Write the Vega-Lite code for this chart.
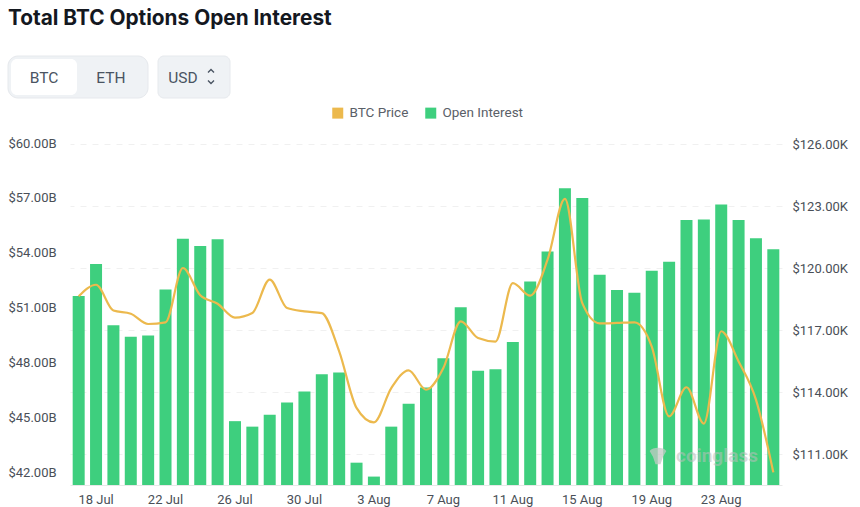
{
  "$schema": "https://vega.github.io/schema/vega-lite/v6.json",
  "width": 712,
  "height": 341,
  "autosize": "none",
  "padding": {"left": 70, "top": 144, "right": 78, "bottom": 22},
  "background": "white",
  "title": {"text": "Total BTC Options Open Interest", "font": "Inter", "fontSize": 20.8, "fontWeight": 700, "color": "#14181f", "anchor": "start", "frame": "group", "dx": -62, "offset": 26},
  "config": {"view": {"stroke": null}, "text": {"font": "Roboto"}},
  "datasets": {
    "days": [
      {"day": "17 Jul", "oi": 51.69, "price": 118.63},
      {"day": "18 Jul", "oi": 53.44, "price": 119.19},
      {"day": "19 Jul", "oi": 50.09, "price": 117.94},
      {"day": "20 Jul", "oi": 49.47, "price": 117.79},
      {"day": "21 Jul", "oi": 49.53, "price": 117.29},
      {"day": "22 Jul", "oi": 52.05, "price": 117.37},
      {"day": "23 Jul", "oi": 54.82, "price": 120.0},
      {"day": "24 Jul", "oi": 54.42, "price": 118.68},
      {"day": "25 Jul", "oi": 54.8, "price": 118.27},
      {"day": "26 Jul", "oi": 44.85, "price": 117.6},
      {"day": "27 Jul", "oi": 44.55, "price": 117.82},
      {"day": "28 Jul", "oi": 45.2, "price": 119.44},
      {"day": "29 Jul", "oi": 45.87, "price": 118.06},
      {"day": "30 Jul", "oi": 46.47, "price": 117.9},
      {"day": "31 Jul", "oi": 47.42, "price": 117.82},
      {"day": "1 Aug", "oi": 47.51, "price": 115.97},
      {"day": "2 Aug", "oi": 42.58, "price": 113.23},
      {"day": "3 Aug", "oi": 41.82, "price": 112.53},
      {"day": "4 Aug", "oi": 44.55, "price": 114.19},
      {"day": "5 Aug", "oi": 45.8, "price": 115.05},
      {"day": "6 Aug", "oi": 46.69, "price": 114.11},
      {"day": "7 Aug", "oi": 48.29, "price": 115.16},
      {"day": "8 Aug", "oi": 51.07, "price": 117.42},
      {"day": "9 Aug", "oi": 47.6, "price": 116.61},
      {"day": "10 Aug", "oi": 47.69, "price": 116.44},
      {"day": "11 Aug", "oi": 49.18, "price": 119.27},
      {"day": "12 Aug", "oi": 52.49, "price": 118.66},
      {"day": "13 Aug", "oi": 54.13, "price": 120.4},
      {"day": "14 Aug", "oi": 57.58, "price": 123.34},
      {"day": "15 Aug", "oi": 57.05, "price": 118.3},
      {"day": "16 Aug", "oi": 52.85, "price": 117.32},
      {"day": "17 Aug", "oi": 52.02, "price": 117.34},
      {"day": "18 Aug", "oi": 51.87, "price": 117.37},
      {"day": "19 Aug", "oi": 53.07, "price": 116.2},
      {"day": "20 Aug", "oi": 53.56, "price": 112.82},
      {"day": "21 Aug", "oi": 55.84, "price": 114.23},
      {"day": "22 Aug", "oi": 55.87, "price": 112.47},
      {"day": "23 Aug", "oi": 56.69, "price": 116.94},
      {"day": "24 Aug", "oi": 55.84, "price": 115.48},
      {"day": "25 Aug", "oi": 54.85, "price": 113.63},
      {"day": "26 Aug", "oi": 54.25, "price": 110.11}
    ]
  },
  "layer": [
    {
      "data": {"name": "days"},
      "encoding": {
        "x": {
          "field": "day", "type": "nominal", "sort": null, "title": null,
          "scale": {"type": "band", "paddingInner": 0.31, "paddingOuter": 0.155},
          "axis": {
            "values": ["18 Jul", "22 Jul", "26 Jul", "30 Jul", "3 Aug", "7 Aug", "11 Aug", "15 Aug", "19 Aug", "23 Aug"],
            "labelAngle": 0, "ticks": false, "domainColor": "#e8e8e8", "labelFont": "Roboto", "labelFontSize": 13, "labelColor": "#4a4f57", "labelPadding": 8.5
          }
        }
      },
      "layer": [
        {
          "mark": {"type": "bar", "size": 12},
          "encoding": {
            "y": {
              "field": "oi", "type": "quantitative", "title": null,
              "scale": {"domain": [41.36, 60], "zero": false, "nice": false, "clamp": true},
              "axis": {
                "values": [42, 45, 48, 51, 54, 57, 60], "labelExpr": "'$' + format(datum.value, '.2f') + 'B'",
                "domain": false, "ticks": false, "grid": false, "labelAlign": "left", "labelPadding": 62, "labelOffset": -1, "labelFont": "Roboto", "labelFontSize": 13, "labelColor": "#4a4f57"
              }
            },
            "color": {
              "datum": "Open Interest",
              "scale": {"domain": ["BTC Price", "Open Interest"], "range": ["#ecb94d", "#3ecf7e"]},
              "legend": {
                "orient": "none", "legendX": 261, "legendY": -38, "direction": "horizontal", "title": null, "symbolType": "square", "symbolSize": 121,
                "symbolStrokeWidth": 0, "labelFont": "Roboto", "labelFontSize": 13.5, "labelColor": "#5a6068", "labelOffset": 5, "columnPadding": 15,
                "encode": {"symbols": {"update": {"fill": {"field": "value", "scale": "color"}}}}
              }
            }
          }
        },
        {
          "mark": {"type": "line", "interpolate": "monotone", "strokeWidth": 2.2},
          "encoding": {
            "y": {
              "field": "price", "type": "quantitative", "title": null,
              "scale": {"domain": [109.5, 126], "zero": false, "nice": false},
              "axis": {
                "orient": "right", "values": [111, 114, 117, 120, 123, 126], "labelExpr": "'$' + format(datum.value, '.2f') + 'K'",
                "domain": false, "ticks": false, "grid": true, "gridColor": "#f0f0f0", "gridDash": [6, 6], "labelAlign": "left", "labelPadding": 10, "labelFont": "Roboto", "labelFontSize": 13, "labelColor": "#4a4f57"
              }
            },
            "color": {"datum": "BTC Price"}
          }
        }
      ],
      "resolve": {"scale": {"y": "independent"}}
    },
    {
      "encoding": {
        "x": {"type": "quantitative", "title": null, "scale": {"domain": [0, 860], "range": [-70, 790], "nice": false, "zero": false}, "axis": null},
        "y": {"type": "quantitative", "title": null, "scale": {"domain": [0, 507], "range": [-144, 363], "nice": false, "zero": false}, "axis": null}
      },
      "layer": [
        {
          "data": {"values": [{"control": "pair"}]},
          "mark": {"type": "rect", "fill": "#eff2f5", "stroke": "#e6e9ed", "cornerRadius": 10},
          "encoding": {"x": {"datum": 8}, "x2": {"datum": 148}, "y": {"datum": 56}, "y2": {"datum": 98}}
        },
        {
          "data": {"values": [{"control": "selected"}]},
          "mark": {"type": "rect", "fill": "white", "cornerRadius": 6},
          "encoding": {"x": {"datum": 11}, "x2": {"datum": 77}, "y": {"datum": 59}, "y2": {"datum": 95}}
        },
        {
          "data": {"values": [{"control": "currency"}]},
          "mark": {"type": "rect", "fill": "#eff2f5", "stroke": "#e6e9ed", "cornerRadius": 6},
          "encoding": {"x": {"datum": 158}, "x2": {"datum": 230}, "y": {"datum": 56}, "y2": {"datum": 98}}
        },
        {
          "data": {"values": [{"label": "BTC"}]},
          "mark": {"type": "text", "font": "Roboto", "fontSize": 15.5, "color": "#4a5462"},
          "encoding": {"x": {"datum": 44}, "y": {"datum": 77.5}, "text": {"field": "label"}}
        },
        {
          "data": {"values": [{"label": "ETH"}]},
          "mark": {"type": "text", "font": "Roboto", "fontSize": 15.5, "color": "#4a5462"},
          "encoding": {"x": {"datum": 111}, "y": {"datum": 77.5}, "text": {"field": "label"}}
        },
        {
          "data": {"values": [{"label": "USD"}]},
          "mark": {"type": "text", "font": "Roboto", "fontSize": 15.5, "color": "#4a5462"},
          "encoding": {"x": {"datum": 183}, "y": {"datum": 77.5}, "text": {"field": "label"}}
        },
        {
          "data": {"values": [{"control": "up"}]},
          "mark": {"type": "point", "shape": "M-1,0.5L0,-0.5L1,0.5", "size": 36, "filled": false, "stroke": "#4a5462", "strokeWidth": 1.4, "opacity": 1},
          "encoding": {"x": {"datum": 211}, "y": {"datum": 71}}
        },
        {
          "data": {"values": [{"control": "down"}]},
          "mark": {"type": "point", "shape": "M-1,-0.5L0,0.5L1,-0.5", "size": 36, "filled": false, "stroke": "#4a5462", "strokeWidth": 1.4, "opacity": 1},
          "encoding": {"x": {"datum": 211}, "y": {"datum": 82}}
        },
        {
          "data": {"values": [{"control": "watermark icon"}]},
          "mark": {"type": "point", "shape": "M-1,-0.6C-0.6,-1.1,0.6,-1.1,1,-0.6L0.6,0.1L0.3,1L-0.3,1L-0.6,0.1Z", "size": 280, "filled": true, "fill": "#c4c9c6", "opacity": 0.75},
          "encoding": {"x": {"datum": 658}, "y": {"datum": 456}}
        },
        {
          "data": {"values": [{"label": "coinglass"}]},
          "mark": {"type": "text", "font": "Roboto", "fontSize": 19, "fontWeight": 700, "color": "#b9bdbb", "opacity": 0.55},
          "encoding": {"x": {"datum": 717}, "y": {"datum": 456}, "text": {"field": "label"}}
        }
      ]
    }
  ],
  "resolve": {"scale": {"x": "independent", "y": "independent"}}
}
